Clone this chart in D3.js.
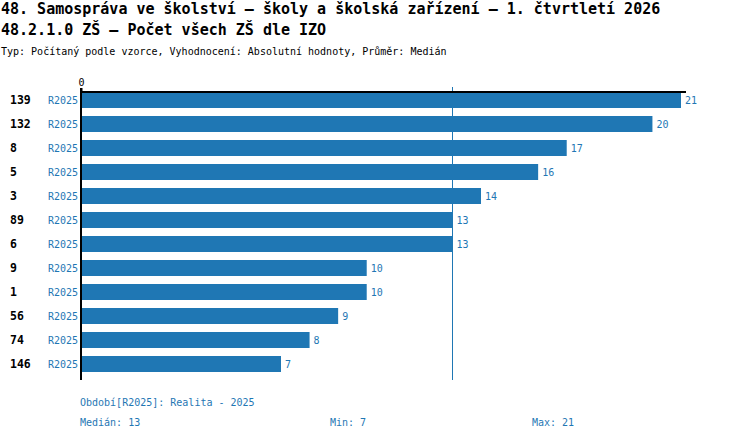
<!DOCTYPE html>
<html>
<head>
<meta charset="utf-8">
<script src="https://cdn.jsdelivr.net/npm/d3@7"></script>
<style>
  body { margin: 0; background: #fff; }
  svg { display: block; }
  text { font-family: "DejaVu Sans Mono", "Liberation Mono", monospace; }
</style>
</head>
<body>
<div class="chart"></div>
<script>
// data
const categories = ["139", "132", "8", "5", "3", "89", "6", "9", "1", "56", "74", "146"];
const values = [21, 20, 17, 16, 14, 13, 13, 10, 10, 9, 8, 7];
const seriesName = "R2025";
const xTicks = [0];
const titleLines = [
  "48. Samospráva ve školství – školy a školská zařízení – 1. čtvrtletí 2026",
  "48.2.1.0 ZŠ – Počet všech ZŠ dle IZO"
];
const subtitle = "Typ: Počítaný podle vzorce, Vyhodnocení: Absolutní hodnoty, Průměr: Medián";
const periodNote = "Období[R2025]: Realita - 2025";

const width = 750;
const height = 440;
const blue = "#1f77b4";

const rows = categories.map((c, i) => ({ cat: c, value: values[i] }));
const median = d3.median(values);
const minV = d3.min(values);
const maxV = d3.max(values);

const svg = d3.select(".chart")
              .append("svg")
              .attr("width", width)
              .attr("height", height);

// titles
svg.selectAll(".title")
   .data(titleLines)
   .enter()
   .append("text")
   .attr("x", 1)
   .attr("y", (d, i) => 14 + i * 21)
   .attr("font-size", "15px")
   .attr("font-weight", "bold")
   .text(d => d);

svg.append("text")
   .attr("x", 1)
   .attr("y", 55)
   .attr("font-size", "10px")
   .text(subtitle);

// scales
const xScale = d3.scaleLinear()
                 .domain([0, maxV])
                 .range([81, 681]);
const yScale = d3.scaleBand()
                 .domain(categories)
                 .range([92, 380]);
const barH = yScale.bandwidth() * 2 / 3;

// bars
svg.selectAll(".bar")
   .data(rows)
   .enter()
   .append("rect")
   .attr("x", xScale(0))
   .attr("y", d => yScale(d.cat))
   .attr("width", d => xScale(d.value) - xScale(0))
   .attr("height", barH)
   .attr("fill", blue);

// value labels
svg.selectAll(".val")
   .data(rows)
   .enter()
   .append("text")
   .attr("x", d => xScale(d.value) + 4)
   .attr("y", d => yScale(d.cat) + barH / 2 + 4)
   .attr("font-size", "10px")
   .attr("fill", blue)
   .text(d => d.value);

// category labels
svg.selectAll(".cat")
   .data(rows)
   .enter()
   .append("text")
   .attr("x", 10)
   .attr("y", d => yScale(d.cat) + barH / 2 + 4)
   .attr("font-size", "11.5px")
   .attr("font-weight", "bold")
   .text(d => d.cat);

svg.selectAll(".ser")
   .data(rows)
   .enter()
   .append("text")
   .attr("x", 78)
   .attr("y", d => yScale(d.cat) + barH / 2 + 4)
   .attr("text-anchor", "end")
   .attr("font-size", "10px")
   .attr("fill", blue)
   .text(seriesName);

// median line
svg.append("line")
   .attr("x1", Math.round(xScale(median)) + 0.5)
   .attr("x2", Math.round(xScale(median)) + 0.5)
   .attr("y1", 87)
   .attr("y2", 380)
   .attr("stroke", blue)
   .attr("stroke-width", 1);

// axes
const xAxis = d3.axisTop(xScale).tickValues(xTicks).tickSize(4).tickSizeOuter(0);
const gx = svg.append("g")
              .attr("transform", "translate(0, 92)")
              .call(xAxis);
gx.select(".domain").attr("stroke", "#000").attr("stroke-width", 2)
  .attr("d", "M" + xScale(0) + ",0H" + (xScale(maxV) + 5));
gx.selectAll(".tick line").attr("stroke", "#000").attr("stroke-width", 2);
gx.selectAll(".tick text")
  .attr("font-family", "DejaVu Sans Mono, monospace")
  .attr("font-size", "10px")
  .attr("fill", "#000")
  .attr("y", -6);

svg.append("line")
   .attr("x1", xScale(0))
   .attr("x2", xScale(0))
   .attr("y1", 88)
   .attr("y2", 380)
   .attr("stroke", "#000")
   .attr("stroke-width", 2);

// footer
svg.append("text")
   .attr("x", 80)
   .attr("y", 406)
   .attr("font-size", "10px")
   .attr("fill", blue)
   .text(periodNote);

const stats = [
  { label: "Medián: " + median, x: 80 },
  { label: "Min: " + minV, x: 330 },
  { label: "Max: " + maxV, x: 532 }
];
svg.selectAll(".stat")
   .data(stats)
   .enter()
   .append("text")
   .attr("x", d => d.x)
   .attr("y", 426)
   .attr("font-size", "10px")
   .attr("fill", blue)
   .text(d => d.label);
</script>
</body>
</html>
